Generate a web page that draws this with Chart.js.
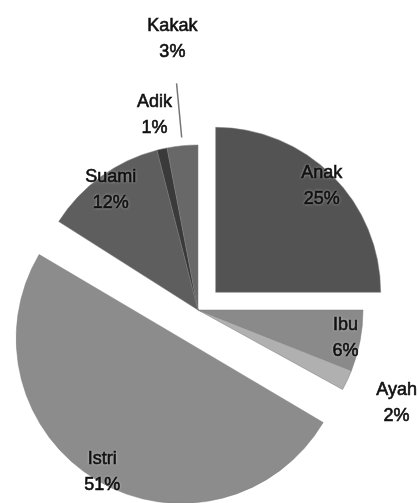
<!DOCTYPE html>
<html>
<head>
<meta charset="utf-8">
<script src="https://cdn.jsdelivr.net/npm/chart.js@4.4.0/dist/chart.umd.min.js"></script>
<style>
  html, body { margin: 0; padding: 0; background: #fff; }
  canvas { display: block; }
</style>
</head>
<body>
<canvas id="pie" width="418" height="503"></canvas>
<script>
// Values (percent of respondents)
const categories = ['Anak', 'Ibu', 'Ayah', 'Istri', 'Suami', 'Adik', 'Kakak'];
const shares = [25, 6, 2, 51, 12, 1, 3];
const shareLabels = ['25%', '6%', '2%', '51%', '12%', '1%', '3%'];

const sliceColors = ['#535353', '#8a8a8a', '#b0b0b0', '#8c8c8c', '#5e5e5e', '#3a3a3a', '#686868'];
// Chart.js v4 moves an arc by offset / 4
const sliceOffsets = [100, 0, 0, 132, 0, 0, 0];

// label distance from slice apex, as a fraction of the radius
const labelDist = [0.91, 0.91, 1.33, 0.94, 0.9, 1.21, 1.65];

const pieLabels = {
  id: 'pieLabels',
  // slices wider than 180deg also get a bigger radius from the offset; undo that
  beforeDatasetsDraw(chart) {
    const meta = chart.getDatasetMeta(0);
    const R = meta.controller.outerRadius;
    meta.data.forEach(arc => {
      const circ = arc.endAngle - arc.startAngle;
      const fix = 1 - Math.sin(Math.min(Math.PI, circ));
      arc.outerRadius = R - ((arc.options.offset || 0) / 4) * fix;
    });
  },
  afterDatasetsDraw(chart, args, opts) {
    const ctx = chart.ctx;
    const meta = chart.getDatasetMeta(0);
    const R = meta.controller.outerRadius;
    ctx.save();
    meta.data.forEach((arc, i) => {
      const mid = (arc.startAngle + arc.endAngle) / 2;
      const off = (arc.options.offset || 0) / 4;
      const cos = Math.cos(mid), sin = Math.sin(mid);

      if (opts.leader && opts.leader.index === i) {
        ctx.strokeStyle = '#777';
        ctx.lineWidth = 1.5;
        ctx.beginPath();
        ctx.moveTo(arc.x + cos * (off + opts.leader.from * R), arc.y + sin * (off + opts.leader.from * R));
        ctx.lineTo(arc.x + cos * (off + opts.leader.to * R), arc.y + sin * (off + opts.leader.to * R));
        ctx.stroke();
      }

      const d = off + labelDist[i] * R;
      const tx = arc.x + cos * d;
      const ty = arc.y + sin * d;
      ctx.font = '18px "Liberation Sans", Arial, sans-serif';
      ctx.textAlign = 'center';
      ctx.textBaseline = 'middle';
      ctx.fillStyle = '#111';
      ctx.strokeStyle = '#111';
      ctx.lineWidth = 0.6;
      ctx.shadowColor = 'rgba(255,255,255,0.7)';
      ctx.shadowBlur = 3;
      ctx.fillText(categories[i], tx, ty - 13);
      ctx.fillText(shareLabels[i], tx, ty + 13);
      ctx.shadowBlur = 0;
      ctx.strokeText(categories[i], tx, ty - 13);
      ctx.strokeText(shareLabels[i], tx, ty + 13);
    });
    ctx.restore();
  }
};

new Chart(document.getElementById('pie'), {
  type: 'pie',
  data: {
    labels: categories,
    datasets: [{
      data: shares,
      backgroundColor: sliceColors,
      borderColor: '#7a7a7a',
      borderWidth: 0.5,
      offset: sliceOffsets,
    }],
  },
  options: {
    responsive: false,
    animation: false,
    radius: 165,
    layout: { padding: { left: 0, right: 22, top: 117, bottom: 0 } },
    plugins: {
      legend: { display: false },
      tooltip: { enabled: false },
      pieLabels: { leader: { index: 6, from: 1.05, to: 1.38 } },
    },
  },
  plugins: [pieLabels],
});
</script>
</body>
</html>
